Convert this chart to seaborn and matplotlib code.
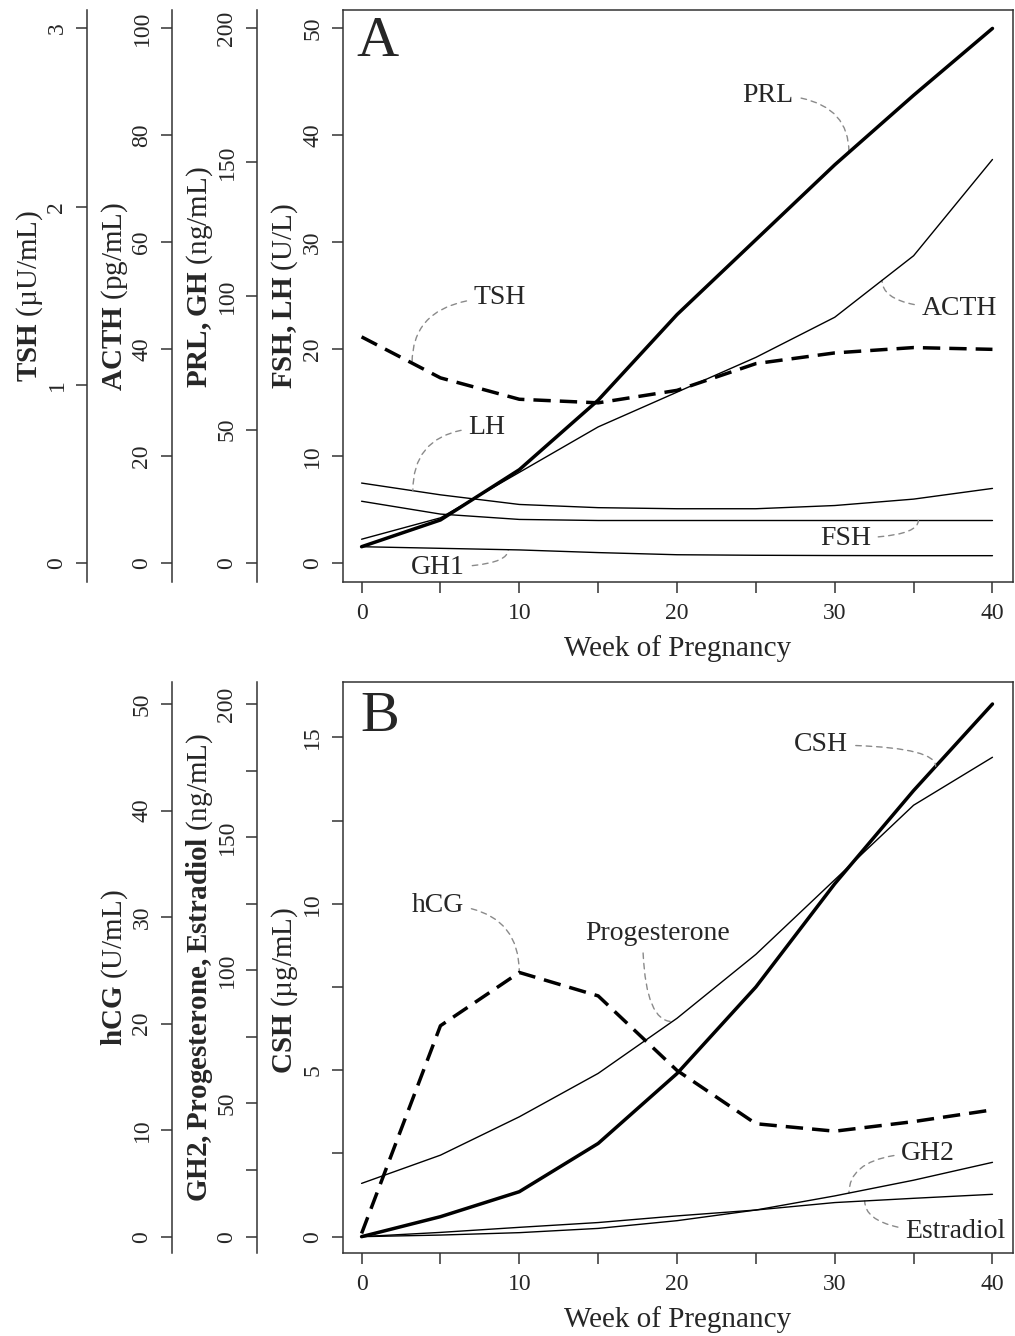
import numpy as np
import seaborn as sns
import matplotlib.pyplot as plt
from matplotlib.ticker import MultipleLocator

weeks = [0, 5, 10, 15, 20, 25, 30, 35, 40]

# panel A
tsh = [1.27, 1.04, 0.92, 0.90, 0.97, 1.12, 1.18, 1.21, 1.20]    # uU/mL
acth = [4.5, 8.5, 17, 25.5, 32, 38.5, 46, 57.5, 75.5]           # pg/mL
prl = [6.2, 16.2, 35, 61, 93, 121, 149, 175, 200]               # ng/mL
gh1 = [6.2, 5.6, 5.0, 4.0, 3.2, 3.0, 2.9, 2.85, 2.85]           # ng/mL
lh = [7.5, 6.4, 5.5, 5.2, 5.1, 5.1, 5.4, 6.0, 7.0]              # U/L
fsh = [5.8, 4.6, 4.1, 4.0, 4.0, 4.0, 4.0, 4.0, 4.0]             # U/L

# panel B
hcg = [0.3, 19.8, 24.8, 22.6, 15.6, 10.6, 9.9, 10.8, 11.9]      # U/mL
progesterone = [20, 30.6, 45, 61.3, 82, 106, 134, 162, 180]     # ng/mL
gh2 = [0, 0.6, 1.5, 3.1, 6.0, 10.0, 15.3, 21.2, 27.9]           # ng/mL
estradiol = [0, 1.6, 3.5, 5.3, 7.8, 10.0, 12.8, 14.4, 15.9]     # ng/mL
csh = [0, 0.6, 1.35, 2.8, 4.9, 7.5, 10.6, 13.4, 16.0]           # ug/mL

sns.set_style("ticks")
plt.rcParams["font.family"] = ["Liberation Serif", "DejaVu Serif"]
plt.rcParams["mathtext.fontset"] = "custom"
plt.rcParams["mathtext.rm"] = "Liberation Serif"
plt.rcParams["mathtext.bf"] = "Liberation Serif:bold"
plt.rcParams["axes.edgecolor"] = "#333333"
plt.rcParams["axes.linewidth"] = 1.1

TICK = 17
LAB = 21
ANN = 20
THICK = 2.5
THIN = 1.0
DASH = (0, (5, 2.6))


def y_axis(ax, lim, major, minor=None):
    ax.set_ylim(lim)
    ax.yaxis.set_major_locator(MultipleLocator(major))
    if minor:
        ax.yaxis.set_minor_locator(MultipleLocator(minor))
    ax.tick_params(axis="y", which="both", length=8, width=1.1, color="#333333",
                   direction="out", pad=6, labelsize=TICK, labelrotation=90)
    for t in ax.get_yticklabels():
        t.set_va("center")


def extra(ax, pos, lim, major, minor=None):
    tw = ax.twinx()
    tw.yaxis.tick_left()
    tw.yaxis.set_label_position("left")
    for side in ["top", "right", "bottom"]:
        tw.spines[side].set_visible(False)
    tw.spines["left"].set_position(("axes", pos))
    y_axis(tw, lim, major, minor)
    return tw


def ylab(ax, text, x, y=0.5):
    ax.set_ylabel(text, fontsize=LAB, va="center")
    ax.yaxis.set_label_coords(x, y)


def x_axis(ax):
    ax.set_xlim(-1.2, 41.3)
    ax.xaxis.set_major_locator(MultipleLocator(10))
    ax.xaxis.set_minor_locator(MultipleLocator(5))
    ax.tick_params(axis="x", which="both", length=8, width=1.1, color="#333333",
                   direction="out", pad=7, labelsize=TICK)
    ax.set_xlabel("Week of Pregnancy", fontsize=LAB, labelpad=8)


def tag(ax, text, xytext, target, wk, series, angA, angB, relpos=(0.5, 0.5)):
    ax.annotate(text, xy=(wk, np.interp(wk, weeks, series)), xycoords=target.transData,
                xytext=xytext, textcoords=ax.transData, ha="center", va="center",
                fontsize=ANN,
                arrowprops=dict(arrowstyle="-", color="#8a8a8a", lw=1.0,
                                linestyle=(0, (4, 3.5)), relpos=relpos,
                                connectionstyle=f"angle3,angleA={angA},angleB={angB}",
                                shrinkA=3, shrinkB=0))


fig = plt.figure(figsize=(10.15, 13.36), dpi=100)
axA = fig.add_axes([0.3376, 0.5646, 0.6604, 0.4279])
axB = fig.add_axes([0.3376, 0.0619, 0.6604, 0.4276])

# ---------------- panel A ----------------
limA = np.array([-1.72, 51.72])
prl_ax = extra(axA, -0.1279, limA * 4, 50)
acth_ax = extra(axA, -0.2547, limA * 2, 20)
tsh_ax = extra(axA, -0.3815, limA * 0.06, 1)
y_axis(axA, limA, 10)
x_axis(axA)

sns.lineplot(x=weeks, y=fsh, ax=axA, color="black", linewidth=THIN)
sns.lineplot(x=weeks, y=lh, ax=axA, color="black", linewidth=THIN)
sns.lineplot(x=weeks, y=gh1, ax=prl_ax, color="black", linewidth=THIN)
sns.lineplot(x=weeks, y=prl, ax=prl_ax, color="black", linewidth=THICK)
sns.lineplot(x=weeks, y=acth, ax=acth_ax, color="black", linewidth=THIN)
sns.lineplot(x=weeks, y=tsh, ax=tsh_ax, color="black", linewidth=THICK, linestyle=DASH)
for a, lim in [(prl_ax, limA * 4), (acth_ax, limA * 2), (tsh_ax, limA * 0.06), (axA, limA)]:
    a.set_ylim(lim)
axA.set_xlim(-1.2, 41.3)

ylab(tsh_ax, r"$\mathbf{TSH}$ (µU/mL)", -0.4665)
ylab(acth_ax, r"$\mathbf{ACTH}$ (pg/mL)", -0.3395)
ylab(prl_ax, r"$\mathbf{PRL,GH}$ (ng/mL)", -0.2127, 0.533)
ylab(axA, r"$\mathbf{FSH,LH}$ (U/L)", -0.0861)

axA.text(1.03, 48.7, "A", fontsize=42, ha="center", va="center")
tag(axA, "TSH", (8.78, 24.8), tsh_ax, 3.2, tsh, 0, 90)
tag(axA, "LH", (7.95, 12.65), axA, 3.25, lh, 0, 90)
tag(axA, "GH1", (4.84, -0.35), prl_ax, 9.3, gh1, 0, 90)
tag(axA, "FSH", (30.67, 2.36), axA, 35.3, fsh, 0, 90)
tag(axA, "PRL", (25.78, 43.77), prl_ax, 30.9, prl, 0, 90)
tag(axA, "ACTH", (37.9, 23.86), acth_ax, 33.0, acth, 0, 90)

# ---------------- panel B ----------------
limB = np.array([-0.5, 16.66])
ng_ax = extra(axB, -0.1279, limB * 12.5, 50, 25)
hcg_ax = extra(axB, -0.2547, limB * 3.125, 10)
y_axis(axB, limB, 5, 2.5)
x_axis(axB)

sns.lineplot(x=weeks, y=csh, ax=axB, color="black", linewidth=THICK)
sns.lineplot(x=weeks, y=progesterone, ax=ng_ax, color="black", linewidth=THIN)
sns.lineplot(x=weeks, y=gh2, ax=ng_ax, color="black", linewidth=THIN)
sns.lineplot(x=weeks, y=estradiol, ax=ng_ax, color="black", linewidth=THIN)
sns.lineplot(x=weeks, y=hcg, ax=hcg_ax, color="black", linewidth=THICK, linestyle=DASH)
for a, lim in [(ng_ax, limB * 12.5), (hcg_ax, limB * 3.125), (axB, limB)]:
    a.set_ylim(lim)
axB.set_xlim(-1.2, 41.3)

ylab(hcg_ax, r"$\mathbf{hCG}$ (U/mL)", -0.3395)
ylab(ng_ax, r"$\mathbf{GH2,Progesterone,Estradiol}$ (ng/mL)", -0.2127)
ylab(axB, r"$\mathbf{CSH}$ (µg/mL)", -0.0861, 0.461)

axB.text(1.16, 15.6, "B", fontsize=42, ha="center", va="center")
tag(axB, "CSH", (29.15, 14.77), axB, 36.4, csh, 0, 90)
tag(axB, "hCG", (4.84, 9.96), hcg_ax, 10, hcg, 0, 90)
tag(axB, "Progesterone", (18.74, 9.12), ng_ax, 19.7, progesterone, 90, 0, relpos=(0.4, 0.5))
tag(axB, "GH2", (35.93, 2.51), ng_ax, 30.9, gh2, 0, 90)
tag(axB, "Estradiol", (37.65, 0.14), ng_ax, 31.9, estradiol, 0, 90)

fig.savefig("out.png", dpi=100)
